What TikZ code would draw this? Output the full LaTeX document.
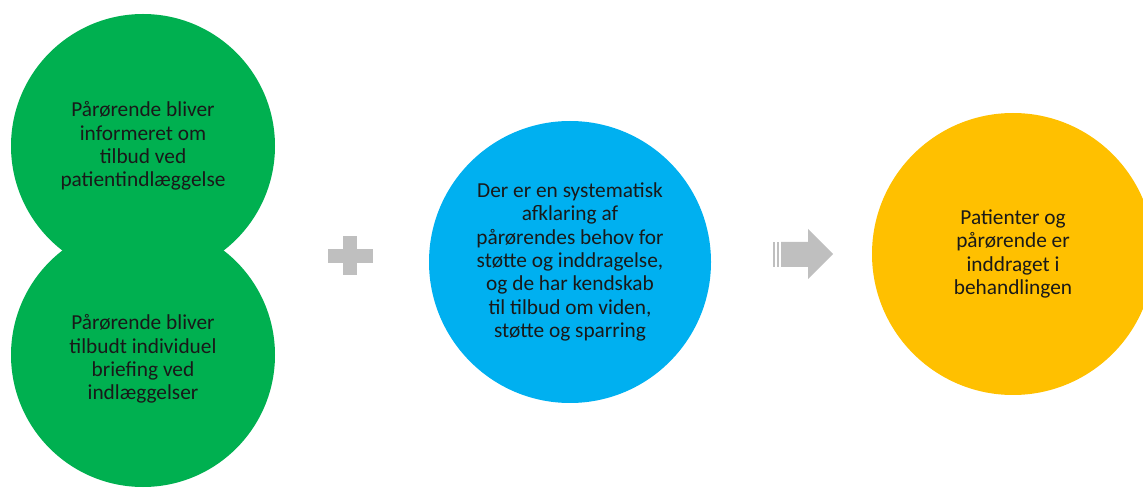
\documentclass[tikz,border=0pt]{standalone}
\usepackage{fontspec}
\setmainfont{Carlito}
\usepackage{tikz}
\usetikzlibrary{positioning}

\definecolor{stepgreen}{HTML}{00B050}
\definecolor{stepblue}{HTML}{00B0F0}
\definecolor{stepyellow}{HTML}{FFC000}
\definecolor{signgray}{HTML}{BFBFBF}

\tikzset{
  bubble/.style={circle, inner sep=0pt, minimum size=#1, align=center,
    text=black!90, font=\fontsize{16}{17.5}\selectfont},
}

\begin{document}
\begin{tikzpicture}[x=0.75pt, y=-0.75pt]

\useasboundingbox (0,0) rectangle (1143,488);
\clip (0,0) rectangle (1143,488);

% two green steps
\node[bubble=198pt, fill=stepgreen] (info) at (143,146) {};
\node[bubble=198pt, fill=stepgreen] (brief) at (143,355) {};
\node at (info) [bubble=10pt] {Pårørende bliver\\informeret om\\tilbud ved\\patientindlæggelse};
\node at (brief) [bubble=10pt, yshift=-3pt] {Pårørende bliver\\tilbudt individuel\\briefing ved\\indlæggelser};

\node[bubble=211.5pt, fill=stepblue] (afklar) at (570,262) {Der er en systematisk\\afklaring af\\pårørendes behov for\\støtte og inddragelse,\\og de har kendskab\\til tilbud om viden,\\støtte og sparring};

\node[bubble=211.5pt, fill=stepyellow] (inddrag) at (1013,254) {Patienter og\\pårørende er\\inddraget i\\behandlingen};


% plus sign
\fill[signgray] (343,236) rectangle (357,275);
\fill[signgray] (328,249) rectangle (373,263);

% striped arrow
\fill[signgray] (773,242) rectangle (775,267);
\fill[signgray] (777,242) rectangle (779,267);
\fill[signgray] (781,242) -- (808,242) -- (808,229) -- (833,254)
  -- (808,279) -- (808,267) -- (781,267) -- cycle;

\end{tikzpicture}
\end{document}
